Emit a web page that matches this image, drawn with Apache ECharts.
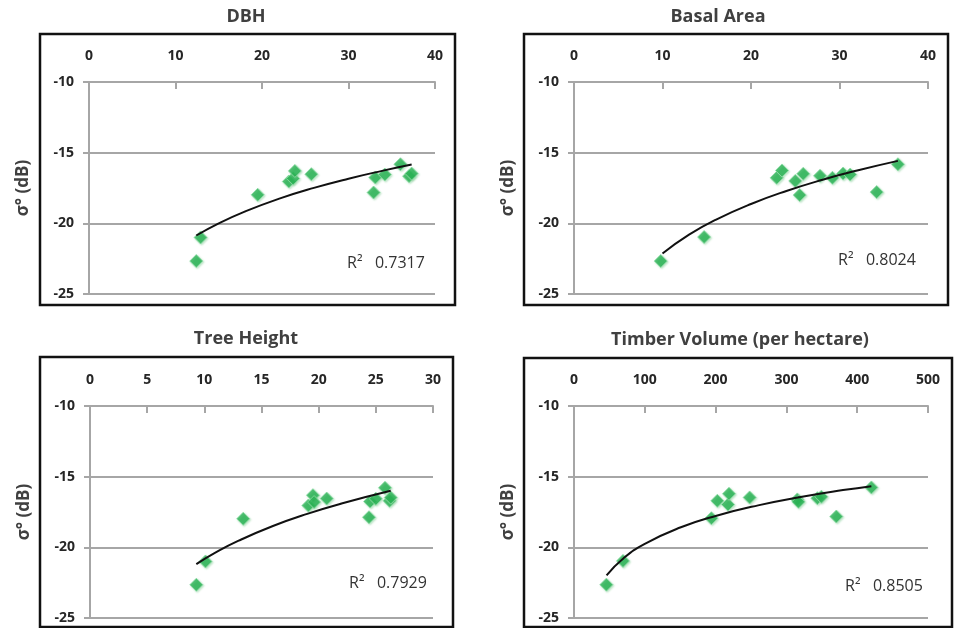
<!DOCTYPE html>
<html><head><meta charset="utf-8">
<script src="https://cdn.jsdelivr.net/npm/echarts@6/dist/echarts.min.js"></script>
<style>html,body{margin:0;padding:0;background:#fff}#c{width:957px;height:628px}</style>
</head><body><div id="c"></div>
<script>
// ---- data ----
const panelTitles = ['DBH', 'Basal Area', 'Tree Height', 'Timber Volume (per hectare)'];
const r2Values = ['0.7317', '0.8024', '0.7929', '0.8505'];
const xMax = [40, 40, 30, 500];
const xInterval = [10, 10, 5, 100];
const yTicks = [-25, -20, -15, -10];

const dbhX = [12.4, 12.9, 19.5, 23.1, 23.6, 23.8, 25.7, 32.9, 33.1, 34.2, 36.0, 37.0, 37.3];
const dbhY = [-22.67, -21.0, -17.98, -17.04, -16.83, -16.29, -16.52, -17.82, -16.76, -16.55, -15.82, -16.66, -16.48];
const dbhTrendX = [12.4, 15, 18, 22, 26, 30, 34, 37.3];
const dbhTrendY = [-20.86, -20.0, -19.17, -18.25, -17.49, -16.84, -16.27, -15.84];

const baX = [9.8, 14.7, 22.9, 23.5, 25.0, 25.5, 25.9, 27.8, 29.2, 30.4, 31.2, 34.2, 36.6];
const baY = [-22.67, -20.97, -16.78, -16.26, -17.0, -18.0, -16.5, -16.64, -16.78, -16.48, -16.55, -17.79, -15.82];
const baTrendX = [10, 13, 16, 20, 24, 28, 32, 36.6];
const baTrendY = [-22.13, -20.8, -19.75, -18.63, -17.71, -16.93, -16.26, -15.58];

const thX = [9.3, 10.1, 13.4, 19.1, 19.5, 19.6, 20.7, 24.4, 24.5, 25.0, 25.8, 26.2, 26.3];
const thY = [-22.65, -21.0, -17.98, -17.04, -16.31, -16.8, -16.55, -17.87, -16.76, -16.57, -15.79, -16.71, -16.48];
const thTrendX = [9.3, 11, 13, 16, 19, 22, 26.3];
const thTrendY = [-21.19, -20.36, -19.53, -18.49, -17.63, -16.9, -16.0];

const tvX = [45.7, 69.2, 194, 202.4, 217.5, 218.9, 248.1, 315.4, 317, 343.7, 349.4, 370.5, 420];
const tvY = [-22.64, -20.96, -17.94, -16.71, -16.97, -16.21, -16.47, -16.61, -16.78, -16.52, -16.42, -17.82, -15.76];
const tvTrendX = [46, 70, 100, 150, 200, 260, 320, 380, 420];
const tvTrendY = [-21.98, -20.77, -19.75, -18.6, -17.78, -17.03, -16.44, -15.95, -15.67];

const scatterX = [dbhX, baX, thX, tvX];
const scatterY = [dbhY, baY, thY, tvY];
const trendX = [dbhTrendX, baTrendX, thTrendX, tvTrendX];
const trendY = [dbhTrendY, baTrendY, thTrendY, tvTrendY];

// ---- layout ----
const grids = [
  {left: 89, top: 82, width: 346, height: 212},
  {left: 574, top: 82, width: 354, height: 212},
  {left: 90, top: 406, width: 343, height: 212},
  {left: 574, top: 406, width: 354, height: 212}
];
const frames = [
  [40, 34, 415, 271],
  [524, 34, 424, 271],
  [40, 357, 413, 270],
  [524, 358, 428, 269]
];
const titlePos = [[246, 17], [718, 17], [246, 339], [740, 340]];
const r2Pos = [[347, 263], [838, 260], [349, 583], [845, 586]];

const FONT = '"Open Sans", "Liberation Sans", sans-serif';
const zip = (a, b) => a.map((v, i) => [v, b[i]]);

const option = {
  animation: false,
  backgroundColor: '#fff',
  grid: grids.map(g => Object.assign({containLabel: false}, g)),
  xAxis: grids.map((g, i) => ({
    gridIndex: i, type: 'value', position: 'top', min: 0, max: xMax[i], interval: xInterval[i],
    axisLine: {show: true, lineStyle: {color: '#a6a6a6', width: 2}},
    axisTick: {show: true, inside: true, length: 7, lineStyle: {color: '#a6a6a6', width: 2}},
    axisLabel: {margin: 19, color: '#262626', fontSize: 14, fontFamily: FONT, fontWeight: 'bold'},
    splitLine: {show: false}
  })),
  yAxis: grids.map((g, i) => ({
    gridIndex: i, type: 'value', min: -25, max: -10, interval: 5,
    name: 'σ° (dB)', nameLocation: 'middle', nameRotate: 90, nameGap: 57,
    nameTextStyle: {color: '#404040', fontSize: 17, fontWeight: 'bold', fontFamily: FONT},
    axisLine: {show: true, lineStyle: {color: '#a6a6a6', width: 2}},
    axisTick: {show: true, inside: false, length: 6, lineStyle: {color: '#a6a6a6', width: 2}},
    axisLabel: {margin: 15, color: '#262626', fontSize: 14, fontFamily: FONT, fontWeight: 'bold',
      formatter: v => yTicks.includes(v) ? String(v) : ''},
    splitLine: {show: true, lineStyle: {color: '#a6a6a6', width: 2}}
  })),
  series: [].concat(
    grids.map((g, i) => ({
      type: 'line', xAxisIndex: i, yAxisIndex: i, data: zip(trendX[i], trendY[i]),
      smooth: true, showSymbol: false, symbol: 'none',
      lineStyle: {color: '#111', width: 2}, z: 3
    })),
    grids.map((g, i) => ({
      type: 'scatter', xAxisIndex: i, yAxisIndex: i, data: zip(scatterX[i], scatterY[i]),
      symbol: 'diamond', symbolSize: [13, 13],
      itemStyle: {color: '#1fae4c', borderColor: '#8fdca6', borderWidth: 1,
        shadowBlur: 2, shadowOffsetX: 1, shadowOffsetY: 1, shadowColor: 'rgba(120,200,140,0.6)'},
      z: 2
    }))
  ),
  graphic: [].concat(
    frames.map(f => ({
      type: 'rect', shape: {x: f[0], y: f[1], width: f[2], height: f[3]},
      style: {fill: 'none', stroke: '#111', lineWidth: 2.5}, z: 10
    })),
    panelTitles.map((t, i) => ({
      type: 'text', x: titlePos[i][0], y: titlePos[i][1],
      style: {text: t, fill: '#404040', font: 'bold 18px ' + FONT, textAlign: 'center', textVerticalAlign: 'middle'}
    })),
    r2Values.map((v, i) => ({
      type: 'text', x: r2Pos[i][0], y: r2Pos[i][1],
      style: {text: 'R²   ' + v, fill: '#333', font: '16px ' + FONT, textAlign: 'left', textVerticalAlign: 'middle'}
    }))
  )
};
const chart = echarts.init(document.getElementById('c'), null, {renderer: 'canvas'});
chart.setOption(option);
</script></body></html>
